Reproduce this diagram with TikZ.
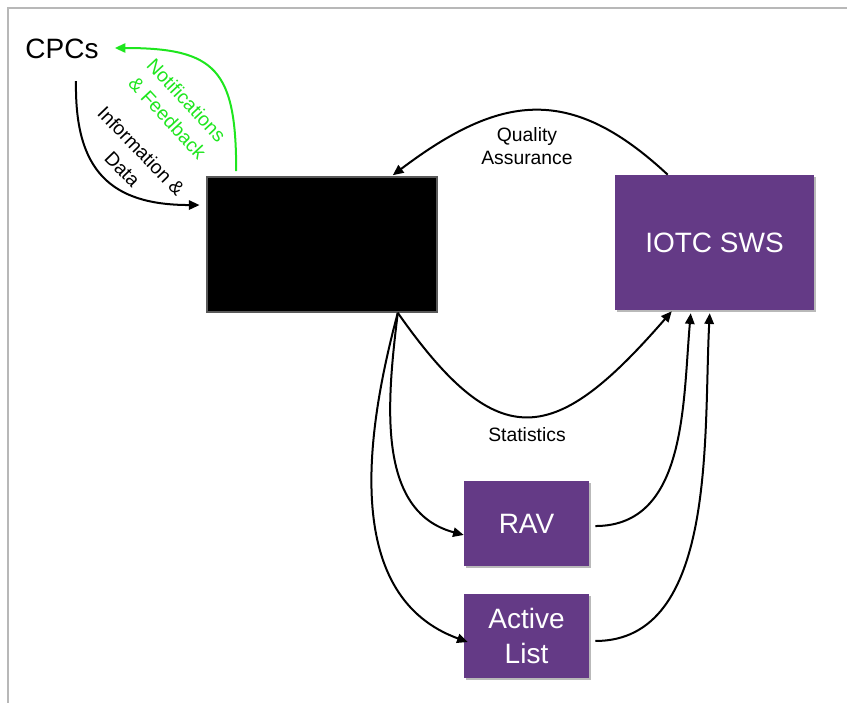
\documentclass[tikz,border=0pt]{standalone}
\usepackage{fontspec}
\setmainfont{Liberation Sans}
\usetikzlibrary{arrows.meta, shadows}

\definecolor{swspurple}{RGB}{100,58,134}
\definecolor{notegreen}{RGB}{30,230,30}

\tikzset{
  flow/.style={line width=1.5pt, -{Triangle[length=8pt, width=7pt]}},
  purplebox/.style={rectangle, fill=swspurple, text=white, inner sep=0pt, align=center,
    font=\fontsize{21}{26.25}\selectfont,
    drop shadow={shadow xshift=1.5pt, shadow yshift=-1.5pt, opacity=0.55}},
  flowlabel/.style={font=\fontsize{14.5}{17}\selectfont, align=center, inner sep=0pt},
  slantlabel/.style={flowlabel, font=\fontsize{14.5}{19.5}\selectfont}
}

\begin{document}
\begin{tikzpicture}[x=0.75pt, y=-0.75pt]
\useasboundingbox (0,0) rectangle (847,703);
\draw[black!28, line width=1pt] (8,703) -- (8,8) -- (847,8);

\node[inner sep=0pt, font=\fontsize{21}{25}\selectfont] (cpcs) at (62,49) {CPCs};
\node[rectangle, fill=black, draw=black!65, line width=1.2pt, inner sep=0pt,
  minimum width=172.5pt, minimum height=101.25pt] (blk) at (322,244.5) {};
\node[purplebox, minimum width=149.25pt, minimum height=101.25pt] (sws) at (714.5,242.5) {IOTC SWS};
\node[purplebox, minimum width=93.75pt, minimum height=63.75pt] (rav) at (526.5,523.5) {RAV};
\node[purplebox, minimum width=93.75pt, minimum height=63pt] (act) at (526.5,636) {Active\\List};

\draw[flow] ([xshift=10.5pt, yshift=-16.5pt]cpcs.south) to[out=-91, in=180, looseness=1.3] ([xshift=-5pt, yshift=29.6pt]blk.west);
\draw[flow, notegreen] ([xshift=22.5pt, yshift=3.75pt]blk.north west) to[out=90, in=0, looseness=1.5] ([xshift=12pt, yshift=0.75pt]cpcs.east);
\draw[flow] ([xshift=39.75pt]sws.north west) to[out=137, in=37, looseness=1.25] ([xshift=-33.75pt, yshift=0.75pt]blk.north east);
\draw[flow] ([xshift=-30pt]blk.south east) to[out=-55, in=-131, looseness=1.65] ([xshift=42.75pt, yshift=-0.75pt]sws.south west);
\draw[flow] ([xshift=-30pt]blk.south east) to[out=-97, in=165] ([yshift=-8.6pt]rav.west);
\draw[flow] ([xshift=-30pt]blk.south east) to[out=-105, in=160] ([xshift=3pt, yshift=-4.5pt]act.west);
\draw[flow] ([xshift=4.5pt, yshift=-1.9pt]rav.east) to[out=0, in=-95] ([xshift=57pt, yshift=-2.25pt]sws.south west);
\draw[flow] ([xshift=4.5pt, yshift=-3.75pt]act.east) to[out=0, in=-93, looseness=0.9] ([xshift=71.25pt, yshift=-2.25pt]sws.south west);

\node[flowlabel] (qa) at (527,146) {Quality\\Assurance};
\node[flowlabel] (stat) at (527,435) {Statistics};
\node[slantlabel, rotate=-46] (info) at (132,160) {Information \&\\Data};
\node[slantlabel, rotate=-47, text=notegreen] (notif) at (177,109) {Notifications\\\& Feedback};

\end{tikzpicture}
\end{document}
